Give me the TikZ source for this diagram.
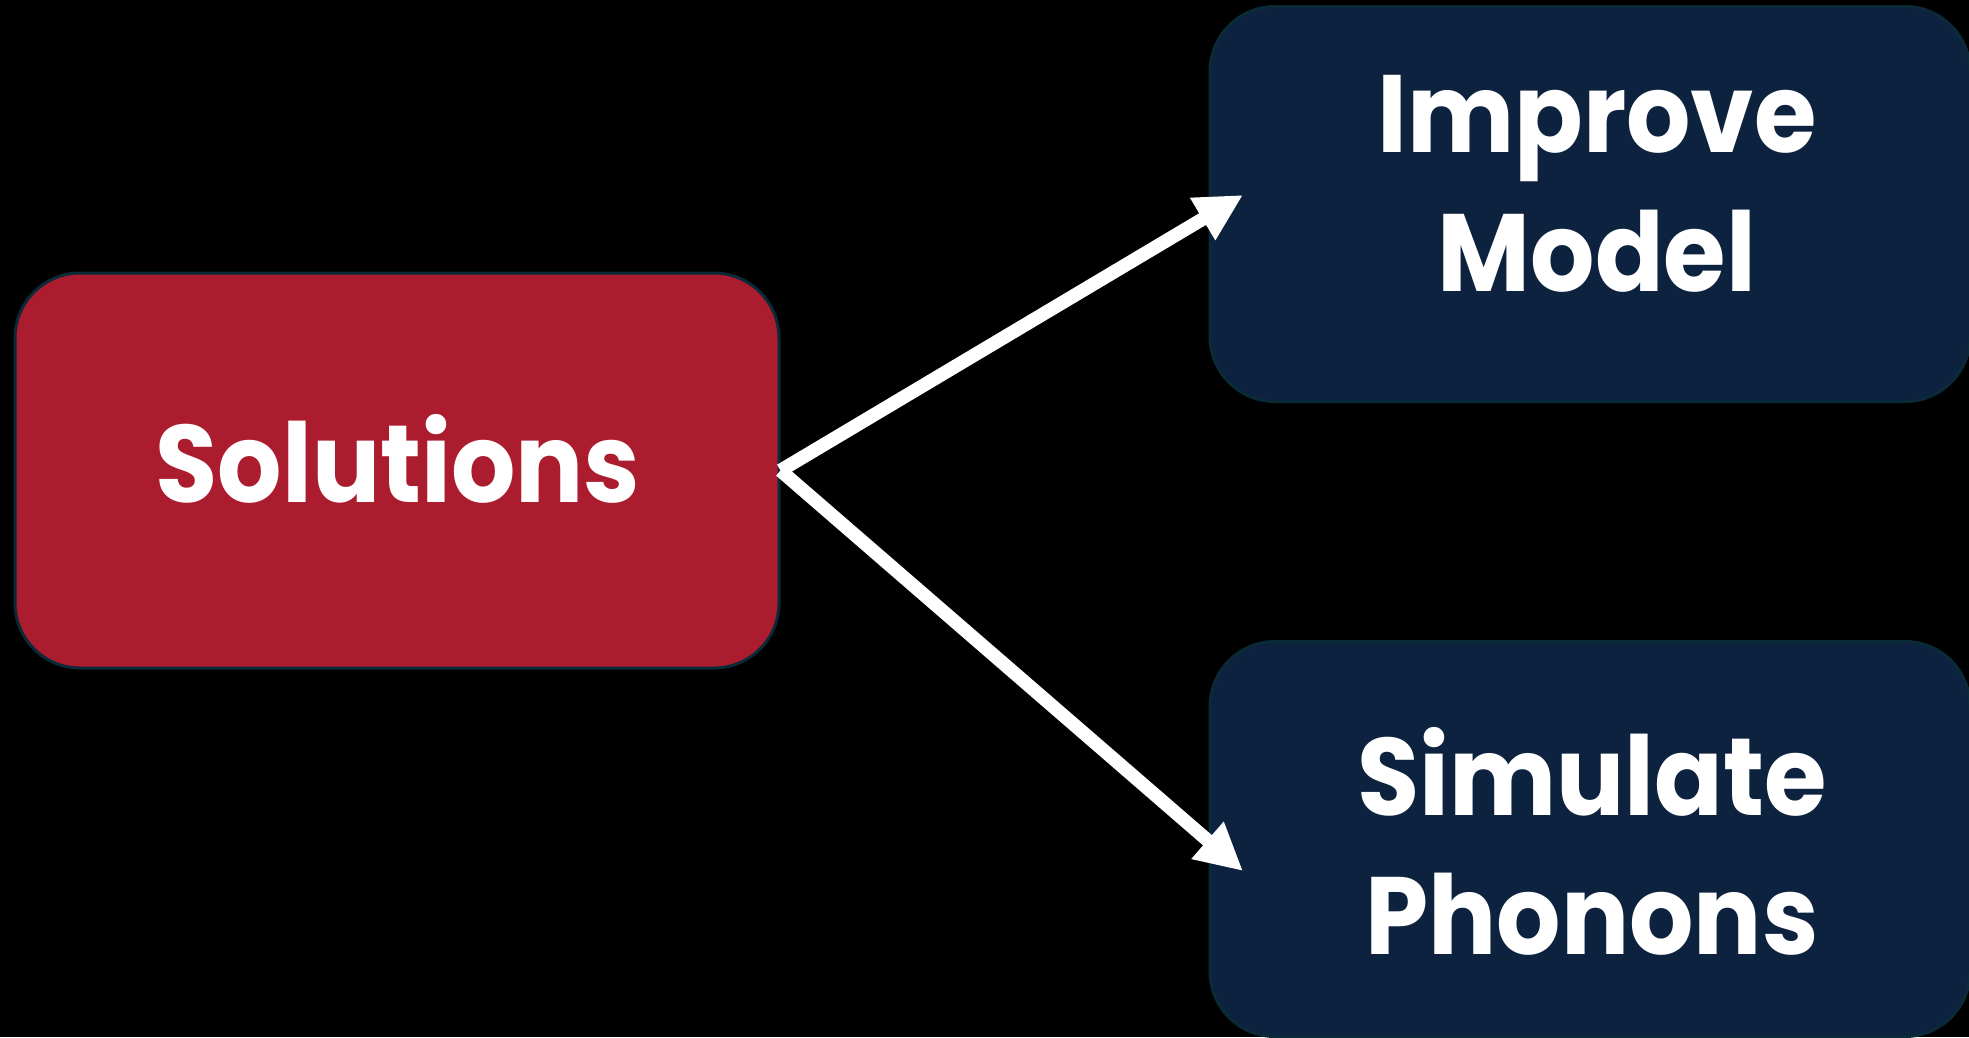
\documentclass[tikz,border=0pt]{standalone}
\usepackage{fontspec}
\newfontfamily\labelfont{Poppins}[UprightFont=* Bold, FakeStretch=0.92]
\usetikzlibrary{arrows.meta}
\definecolor{solred}{RGB}{171,28,46}
\definecolor{stepnavy}{RGB}{13,34,63}
\definecolor{rimteal}{RGB}{10,42,56}
\tikzset{
  card/.style={draw=rimteal, line width=3pt, rounded corners=65pt,
    minimum width=760pt, minimum height=395pt, inner sep=0pt},
  caption/.style={text=white, align=center,
    font=\labelfont\fontsize{110}{139}\selectfont},
  flow/.style={draw=white, line width=13.5pt,
    -{Triangle[length=47pt,width=46pt]}}
}
\begin{document}
\begin{tikzpicture}[x=1pt,y=-1pt]
  % canvas
  \fill[black] (0,0) rectangle (1969,1037);
  \useasboundingbox (0,0) rectangle (1969,1037);
  % boxes
  \node[card, fill=solred, minimum width=764pt] (sol) at (397,470.5) {};
  \node[card, fill=stepnavy] (improve) at (1590,204) {};
  \node[card, fill=stepnavy] (simulate) at (1590,839) {};
  % captions
  \node[caption] (solt) at (398,459) {Solutions};
  \node[caption] (impt) at (1597,184) {Improve\\Model};
  \node[caption] (simt) at (1592,841) {Simulate\\Phonons};
  % arrows
  \coordinate (tipup) at (1243,195);
  \coordinate (tipdown) at (1243,871);
  \draw[flow] (sol.east) -- (tipup);
  \draw[flow] (sol.east) -- (tipdown);
\end{tikzpicture}
\end{document}
